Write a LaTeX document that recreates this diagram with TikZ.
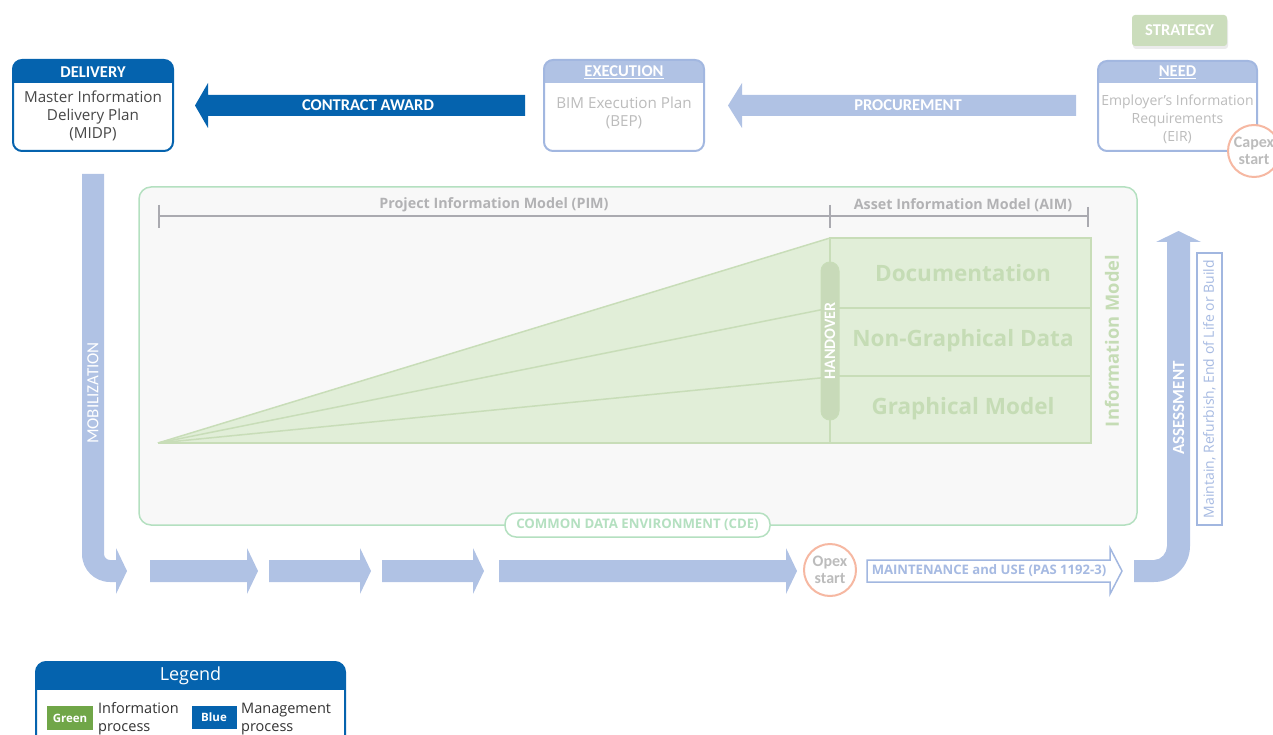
\documentclass[tikz,border=0pt]{standalone}
\usepackage{fontspec}
\setmainfont{Open Sans}
\newfontfamily\calf{Carlito}
\definecolor{dblue}{RGB}{5,99,174}
\definecolor{lblue}{RGB}{176,194,228}
\definecolor{lbluebd}{RGB}{162,183,224}
\definecolor{lbluetx}{RGB}{166,186,226}
\definecolor{gtext}{RGB}{188,188,188}
\definecolor{cdegreen}{RGB}{180,224,192}
\definecolor{cdefill}{RGB}{248,248,248}
\definecolor{trifill}{RGB}{225,238,216}
\definecolor{triline}{RGB}{200,221,184}
\definecolor{tgreen}{RGB}{197,220,181}
\definecolor{hpill}{RGB}{200,218,185}
\definecolor{orng}{RGB}{246,184,162}
\definecolor{strat}{RGB}{203,221,188}
\definecolor{lgreen}{RGB}{112,166,72}
\definecolor{dimline}{RGB}{170,170,176}
\definecolor{dimtext}{RGB}{178,178,180}
\begin{document}
\begin{tikzpicture}[x=1pt,y=-1pt,
  hdr/.style={font=\calf\bfseries\fontsize{16.5}{18}\selectfont, text=white, inner sep=0pt},
  boxbody/.style={font=\fontsize{15.2}{18}\selectfont, align=center, inner sep=0pt},
  circtext/.style={circle, draw=orng, line width=2pt, fill=white, minimum size=52pt, inner sep=0pt,
     align=center, font=\calf\bfseries\fontsize{16}{17}\selectfont, text=gtext},
  dimlbl/.style={font=\bfseries\fontsize{14.3}{16}\selectfont, text=dimtext, inner sep=0pt},
  bigtxt/.style={font=\bfseries\fontsize{22.5}{24}\selectfont, text=tgreen, inner sep=0pt},
  vtxt/.style={rotate=90, inner sep=0pt}]
\clip (0,0) rectangle (1273,735);
\useasboundingbox (0,0) rectangle (1273,735);

% ---------- DELIVERY box
\begin{scope}
\clip[rounded corners=9pt] (13,60) rectangle (173,151);
\fill[white] (13,60) rectangle (173,151);
\fill[dblue] (13,60) rectangle (173,83);
\end{scope}
\draw[dblue, line width=2pt, rounded corners=9pt] (13,60) rectangle (173,151);
\node[hdr] (delh) at (93,72) {DELIVERY};
\node[boxbody, text=black!72] (delb) at (93,116) {Master Information\\Delivery Plan\\(MIDP)};

% ---------- EXECUTION box
\begin{scope}
\clip[rounded corners=9pt] (544,60) rectangle (704,151);
\fill[white] (544,60) rectangle (704,151);
\fill[lblue] (544,60) rectangle (704,83);
\end{scope}
\draw[lbluebd, line width=2pt, rounded corners=9pt] (544,60) rectangle (704,151);
\node[hdr] (exeh) at (624,72) {\underline{EXECUTION}};
\node[boxbody, text=gtext] (exeb) at (624,113) {BIM Execution Plan\\(BEP)};

% ---------- NEED box
\begin{scope}
\clip[rounded corners=9pt] (1098,61) rectangle (1257,151);
\fill[white] (1098,61) rectangle (1257,151);
\fill[lblue] (1098,61) rectangle (1257,83);
\end{scope}
\draw[lbluebd, line width=2pt, rounded corners=9pt] (1098,61) rectangle (1257,151);
\node[hdr] (needh) at (1177.5,72) {\underline{NEED}};
\node[boxbody, text=gtext, font=\fontsize{14}{18}\selectfont] (needb) at (1177.5,119) {Employer’s Information\\Requirements\\(EIR)};

% ---------- STRATEGY
\fill[black!8, rounded corners=3pt] (1133,18) rectangle (1228,49);
\fill[strat, rounded corners=3pt] (1132,15) rectangle (1227,46);
\node[hdr] (strat) at (1179.5,30.5) {STRATEGY};

% ---------- Capex
\node[circtext] (capex) at (1254,151) {Capex\\start};

% ---------- CONTRACT AWARD arrow (left)
\fill[dblue] (525,95) -- (208,95) -- (208,83) -- (195,105.5) -- (208,128) -- (208,116) -- (525,116) -- cycle;
\node[hdr] (ca) at (368,105.5) {CONTRACT AWARD};

% ---------- PROCUREMENT arrow (left)
\fill[lblue] (1076,95) -- (742,95) -- (742,83) -- (728,105.5) -- (742,128) -- (742,116) -- (1076,116) -- cycle;
\node[hdr] (proc) at (908,105.5) {PROCUREMENT};

% ---------- CDE box
\draw[cdegreen, line width=1.5pt, fill=cdefill, rounded corners=12pt] (139,187) rectangle (1137,525);

% dimension lines
\draw[dimline, line width=1.5pt] (159,216) -- (1088,216);
\draw[dimline, line width=1.5pt] (159,205) -- (159,228);
\draw[dimline, line width=1.5pt] (830,205) -- (830,228);
\draw[dimline, line width=1.5pt] (1088,207) -- (1088,227);
\node[dimlbl] (pim) at (494,205) {Project Information Model (PIM)};
\node[dimlbl] (aim) at (963,205) {Asset Information Model (AIM)};

% triangle and model block
\fill[trifill] (158,443) -- (830,238) -- (830,443) -- cycle;
\fill[trifill] (830,238) rectangle (1091,443);
\draw[triline, line width=1.5pt] (158,443) -- (830,238);
\draw[triline, line width=1.5pt] (158,443) -- (830,308);
\draw[triline, line width=1.5pt] (158,443) -- (830,377);
\draw[triline, line width=1.5pt] (158,443) -- (1091,443);
\draw[triline, line width=1.5pt] (830,238) rectangle (1091,443);
\draw[triline, line width=1.5pt] (830,308) -- (1091,308);
\draw[triline, line width=1.5pt] (830,376) -- (1091,376);
\node[bigtxt] (doc) at (963,273) {Documentation};
\node[bigtxt] (ngd) at (963,341) {Non-Graphical Data};
\node[bigtxt] (gm) at (963,409) {Graphical Model};
\node[vtxt, rounded corners=9pt, fill=hpill, draw=triline, line width=1pt, minimum width=158pt, minimum height=18pt,
      font=\calf\bfseries\fontsize{16}{17}\selectfont, text=white] (hand) at (830,341) {HANDOVER};
\node[vtxt, font=\bfseries\fontsize{18.3}{20}\selectfont, text=tgreen] (im) at (1112,341) {Information Model};

% CDE pill
\node[draw=cdegreen, line width=1.5pt, fill=white, rounded corners=11pt, minimum width=265pt, minimum height=24pt,
      inner sep=0pt, font=\bfseries\fontsize{13.2}{15}\selectfont, text=cdegreen] (cde) at (637.5,525) {COMMON DATA ENVIRONMENT (CDE)};

% ---------- MOBILIZATION arrow
\fill[lblue] (104,174) -- (82,174) -- (82,554) .. controls (82,569.5) and (94.5,582) .. (110,582)
  -- (116,582) -- (116,594) -- (127,571) -- (116,548) -- (116,560) -- (110,560)
  .. controls (106.7,560) and (104,557.3) .. (104,554) -- cycle;
\node[vtxt, font=\calf\fontsize{17}{18}\selectfont, text=white] (mob) at (93,393) {MOBILIZATION};

% ---------- bottom arrows
\fill[lblue] (150,560) -- (247,560) -- (247,548) -- (258,571) -- (247,594) -- (247,582) -- (150,582) -- cycle;
\fill[lblue] (269,560) -- (360,560) -- (360,548) -- (371,571) -- (360,594) -- (360,582) -- (269,582) -- cycle;
\fill[lblue] (382,560) -- (473,560) -- (473,548) -- (484,571) -- (473,594) -- (473,582) -- (382,582) -- cycle;
\fill[lblue] (499,560) -- (786,560) -- (786,548) -- (797,571) -- (786,594) -- (786,582) -- (499,582) -- cycle;

% Opex
\node[circtext] (opex) at (830,570) {Opex\\start};

% Maintenance arrow
\draw[lbluebd, line width=1.5pt, fill=white] (867,560) -- (1110,560) -- (1110,548) -- (1122,571) -- (1110,594) -- (1110,582) -- (867,582) -- cycle;
\node[font=\bfseries\fontsize{13.1}{15}\selectfont, text=lbluetx, inner sep=0pt] (maint) at (989,571) {MAINTENANCE and USE (PAS 1192-3)};

% ---------- ASSESSMENT arrow
\fill[lblue] (1134,560) -- (1154,560) .. controls (1161.2,560) and (1167,553.2) .. (1167,546)
  -- (1167,242) -- (1156,242) -- (1178.5,231) -- (1201,242) -- (1190,242) -- (1190,546)
  .. controls (1190,565.9) and (1173.9,582) .. (1154,582) -- (1134,582) -- cycle;
\node[vtxt, font=\calf\bfseries\fontsize{17}{18}\selectfont, text=white] (assess) at (1178.5,408) {ASSESSMENT};

% Maintain box
\node[vtxt, draw=lbluebd, line width=1.5pt, fill=white, minimum width=272pt, minimum height=25pt,
      font=\fontsize{14}{16}\selectfont, text=lbluetx] (mrb) at (1209.5,389) {Maintain, Refurbish, End of Life or Build};

% ---------- Legend
\begin{scope}
\clip[rounded corners=10pt] (36,662) rectangle (345,760);
\fill[white] (36,662) rectangle (345,760);
\fill[dblue] (36,662) rectangle (345,690);
\end{scope}
\draw[dblue, line width=2pt, rounded corners=10pt] (36,662) rectangle (345,760);
\node[font=\fontsize{18}{20}\selectfont, text=white, inner sep=0pt] (leg) at (190.5,676) {Legend};
\node[fill=lgreen, minimum width=46pt, minimum height=24pt, inner sep=0pt,
      font=\bfseries\fontsize{11.5}{13}\selectfont, text=white] (lgg) at (70,718) {Green};
\node[anchor=west, align=left, inner sep=0pt, font=\fontsize{14.5}{18}\selectfont, text=black!80] (lgt) at (98,719) {Information\\process};
\node[fill=dblue, minimum width=45pt, minimum height=23pt, inner sep=0pt,
      font=\bfseries\fontsize{11.5}{13}\selectfont, text=white] (lgb) at (214,717.5) {Blue};
\node[anchor=west, align=left, inner sep=0pt, font=\fontsize{14.5}{18}\selectfont, text=black!80] (lbt) at (241,719) {Management\\process};
\end{tikzpicture}
\end{document}
